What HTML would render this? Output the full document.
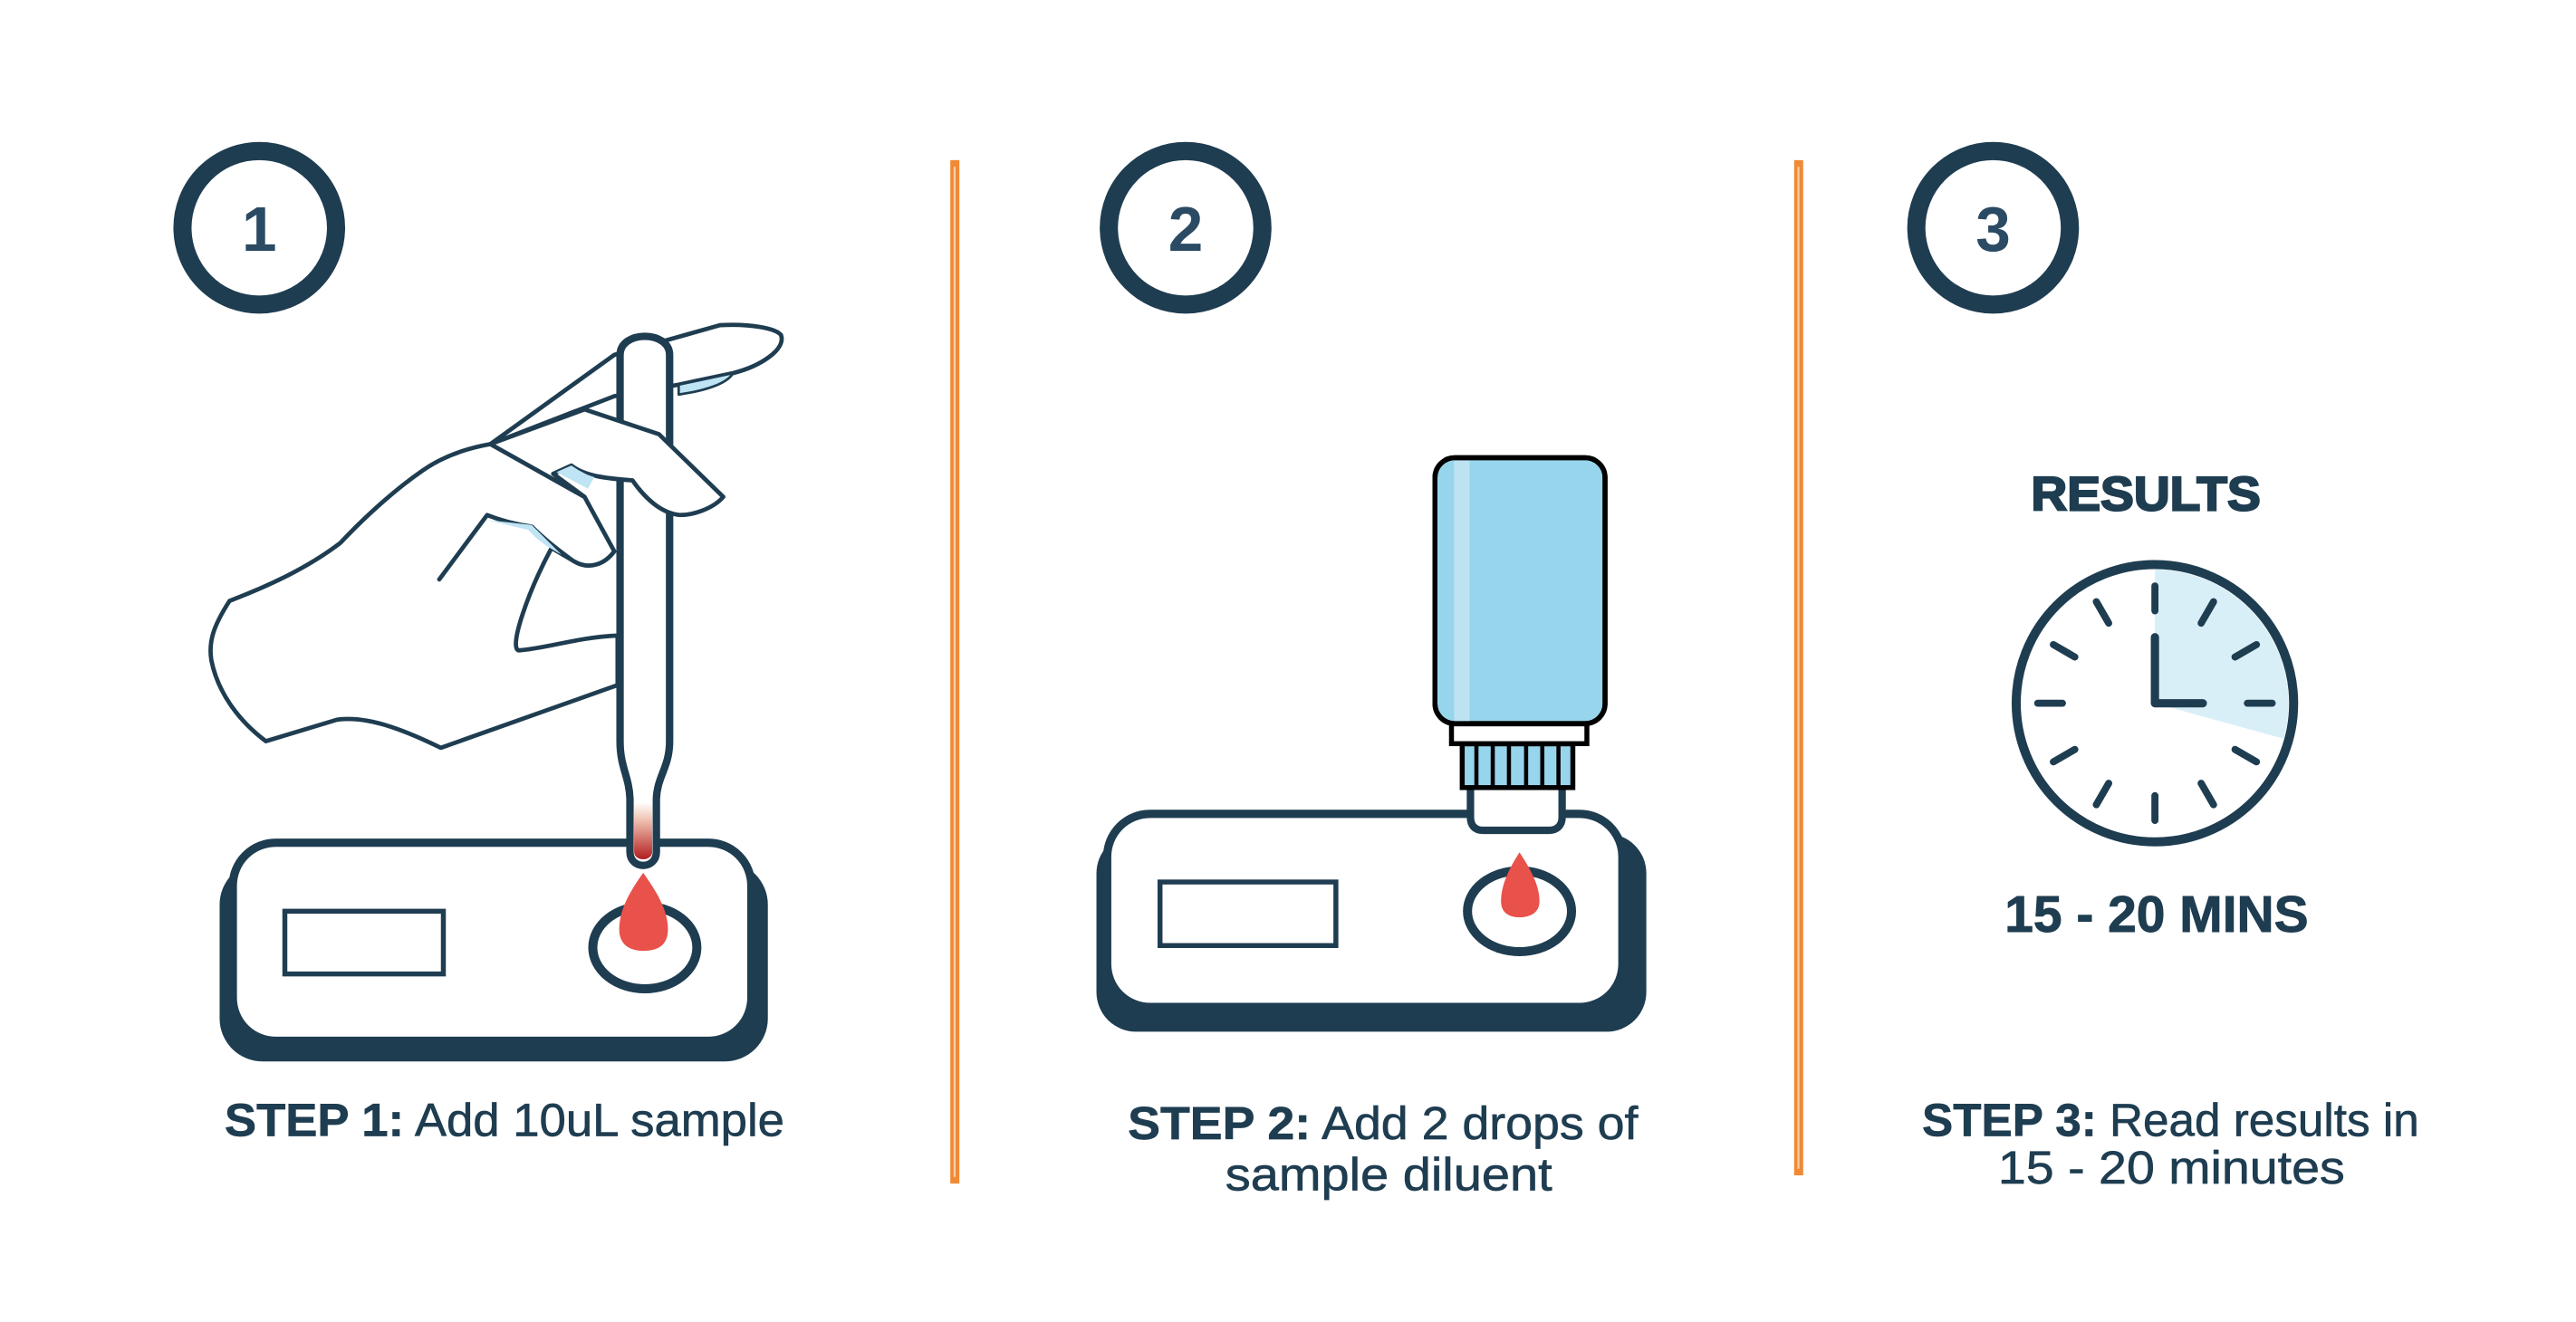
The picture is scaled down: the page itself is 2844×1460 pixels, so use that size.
<!DOCTYPE html>
<html><head><meta charset="utf-8"><style>
html,body{margin:0;padding:0;background:#fff;}
svg{display:block;}
</style></head><body>
<svg width="2844" height="1460" viewBox="0 0 1560 800.84" xmlns="http://www.w3.org/2000/svg">
<defs>
<linearGradient id="tip" x1="0" y1="0" x2="0" y2="1">
<stop offset="0" stop-color="#fff"/><stop offset="0.3" stop-color="#f0c4b4"/><stop offset="1" stop-color="#b21e1e"/>
</linearGradient>
</defs>
<rect width="1560" height="801" fill="#fff"/>
<g fill="none" stroke="#1f3d51" stroke-width="11">
<circle cx="157" cy="138" r="46.5"/>
<circle cx="718" cy="138" r="46.5"/>
<circle cx="1207" cy="138" r="46.5"/>
</g>
<g font-family="Liberation Sans, sans-serif" font-weight="700" font-size="38" fill="#2b4a63" text-anchor="middle">
<text x="157" y="152">1</text><text x="718" y="152">2</text><text x="1207" y="152">3</text>
</g>
<rect x="575.5" y="97" width="5.5" height="620" fill="#f08a35"/>
<rect x="577.5" y="101" width="1.2" height="612" fill="#f8cfa8"/>
<rect x="1086.5" y="97" width="5.5" height="615" fill="#f08a35"/>
<rect x="1088.5" y="101" width="1.2" height="607" fill="#f8cfa8"/>

<!-- Device 1 -->
<rect x="133" y="522" width="332" height="121" rx="26" fill="#1f3d51"/>
<rect x="141" y="510.5" width="314" height="120" rx="26" fill="#fff" stroke="#1f3d51" stroke-width="5"/>
<rect x="172.5" y="552" width="96" height="38" fill="none" stroke="#1f3d51" stroke-width="3"/>
<ellipse cx="390.5" cy="574" rx="31.5" ry="25" fill="#fff" stroke="#1f3d51" stroke-width="5.5"/>
<path d="M389.5,528.7 C383,538 375,550 375,563 C375,572 381,576 389.5,576 C398,576 404.5,573 404.5,563 C404.5,550 396,538 389.5,528.7Z" fill="#e8524a"/>

<!-- Hand (back parts) -->
<g fill="#fff" stroke="#1f3d51" stroke-width="2.6" stroke-linejoin="round" stroke-linecap="round">
<path d="M297,269 L372,215 L436,197 C455,196 470,199 473,203 C476,212 460,222 444,226 L411,233 L372,240 Z"/>
<path d="M411,233 L444,226 C440,233 425,237 411,239 Z" fill="#bfe4f4" stroke-width="1.5"/>
<path d="M297,269 C280,272 266,278 256,285 C240,296 222,312 206,329 C185,345 160,356 139,364 C130,378 126,388 128,400 C132,420 145,437 161,449 L204,436 C225,433 250,445 267,453 L374,415 L374,385 C350,386 330,393 314,394 C308,392 320,358 334,332 L346,339 C356,346 366,342 372,334 L354,301 Z"/>
<path d="M266,351 L295,312 C305,316 315,318 322,319 C330,327 338,333 346,339" fill="none"/>
<path d="M295,315 L320,321 C326,328 333,332 340,336 L322,318 Z" fill="#bfe4f4" stroke="none"/>
</g>
<!-- Pipette -->
<path d="M375.5,215 C375.5,200 405.5,200 405.5,215 L405.5,449 C405.5,465 398,470 397.5,484 L397.5,516 C397.5,527 381.5,527 381.5,516 L381.5,484 C381,470 375.5,465 375.5,449 Z" fill="#fff" stroke="#1f3d51" stroke-width="4.5"/>
<path d="M384,486 L395,486 L395,516 C395,522 384,522 384,516 Z" fill="url(#tip)"/>
<!-- Middle finger over pipette -->
<g fill="#fff" stroke="#1f3d51" stroke-width="2.6" stroke-linejoin="round" stroke-linecap="round">
<path d="M297,269 L354,248 L399,263 L438,301 C432,308 420,312 412,312 C400,311 390,301 383,291 C370,290 355,289 346,282 L335,287 L354,301 Z"/>
<path d="M337,286 L346,282 C352,286 356,288 360,289 L356,296 Z" fill="#bfe4f4" stroke="none"/>
</g>

<!-- Device 2 -->
<rect x="664" y="505" width="333" height="120" rx="24" fill="#1f3d51"/>
<rect x="670.5" y="493" width="312" height="117" rx="26" fill="#fff" stroke="#1f3d51" stroke-width="5"/>
<rect x="702.5" y="534.3" width="106.5" height="38.5" fill="none" stroke="#1f3d51" stroke-width="3"/>
<ellipse cx="920.2" cy="552" rx="31.5" ry="24.5" fill="#fff" stroke="#1f3d51" stroke-width="5.5"/>
<path d="M920.2,516.3 C914,526 909,536 909,546 C909,553 914,555.7 920.2,555.7 C926.5,555.7 932.3,553 932.3,546 C932.3,536 926.5,526 920.2,516.3Z" fill="#e8524a"/>
<!-- Bottle -->
<path d="M890.5,474 L890.5,495 C890.5,500 893,503 898,503 L938,503 C943,503 946,500 946,495 L946,474" fill="#fff" stroke="#1f3d51" stroke-width="4.5"/>
<rect x="885.5" y="450.6" width="67" height="26.5" fill="#97d5ec" stroke="#000" stroke-width="3"/>
<g stroke="#000" stroke-width="2.5"><line x1="894.1" y1="451" x2="894.1" y2="477"/><line x1="904" y1="451" x2="904" y2="477"/><line x1="913.8" y1="451" x2="913.8" y2="477"/><line x1="924.2" y1="451" x2="924.2" y2="477"/><line x1="934" y1="451" x2="934" y2="477"/><line x1="943.8" y1="451" x2="943.8" y2="477"/></g>
<rect x="879" y="438.5" width="82" height="12" fill="#fff" stroke="#000" stroke-width="3"/>
<rect x="869" y="277.3" width="103" height="161" rx="12" fill="#97d5ec" stroke="#000" stroke-width="3"/>
<rect x="880.6" y="279" width="9.4" height="158" fill="#bde3f2"/>
<rect x="869" y="277.3" width="103" height="161" rx="12" fill="none" stroke="#000" stroke-width="3"/>

<!-- Clock -->
<path d="M1305,426 L1305,345 A81,81 0 0 1 1383,447.5 Z" fill="#d9eff8"/>
<circle cx="1305" cy="426" r="84" fill="none" stroke="#1f3d51" stroke-width="5.5"/>
<g stroke="#1f3d51" stroke-width="4.3" stroke-linecap="round">
<line x1="1305" y1="355" x2="1305" y2="370"/>
<line x1="1305" y1="482" x2="1305" y2="497"/>
<line x1="1234" y1="426" x2="1249" y2="426"/>
<line x1="1361" y1="426" x2="1376" y2="426"/>
<line x1="1340.5" y1="364.5" x2="1333" y2="377.5"/>
<line x1="1269.5" y1="364.5" x2="1277" y2="377.5"/>
<line x1="1340.5" y1="487.5" x2="1333" y2="474.5"/>
<line x1="1269.5" y1="487.5" x2="1277" y2="474.5"/>
<line x1="1366.5" y1="390.5" x2="1353.5" y2="398"/>
<line x1="1243.5" y1="390.5" x2="1256.5" y2="398"/>
<line x1="1366.5" y1="461.5" x2="1353.5" y2="454"/>
<line x1="1243.5" y1="461.5" x2="1256.5" y2="454"/>
</g>
<path d="M1305,386 L1305,426 L1334,426" fill="none" stroke="#1f3d51" stroke-width="5" stroke-linecap="round" stroke-linejoin="round"/>
<g font-family="Liberation Sans, sans-serif" font-weight="700" fill="#1f3d51" stroke="#1f3d51">
<text x="1230" y="309" font-size="29" textLength="139" lengthAdjust="spacingAndGlyphs" stroke-width="1.2">RESULTS</text>
<text x="1214" y="564.5" font-size="31" textLength="184" lengthAdjust="spacingAndGlyphs" stroke-width="0.5">15 - 20 MINS</text>
</g>

<!-- Step labels -->
<g font-family="Liberation Sans, sans-serif" font-size="28" fill="#1f3d51" stroke="#1f3d51" stroke-width="0.35">
<text x="136" y="688" textLength="339" lengthAdjust="spacingAndGlyphs"><tspan font-weight="700">STEP 1:</tspan> Add 10uL sample</text>
<text x="683" y="690" textLength="309" lengthAdjust="spacingAndGlyphs"><tspan font-weight="700">STEP 2:</tspan> Add 2 drops of</text>
<text x="742" y="721" textLength="198" lengthAdjust="spacingAndGlyphs">sample diluent</text>
<text x="1164" y="688" textLength="301" lengthAdjust="spacingAndGlyphs"><tspan font-weight="700">STEP 3:</tspan> Read results in</text>
<text x="1210" y="717" textLength="210" lengthAdjust="spacingAndGlyphs">15 - 20 minutes</text>
</g>
</svg>
</body></html>
